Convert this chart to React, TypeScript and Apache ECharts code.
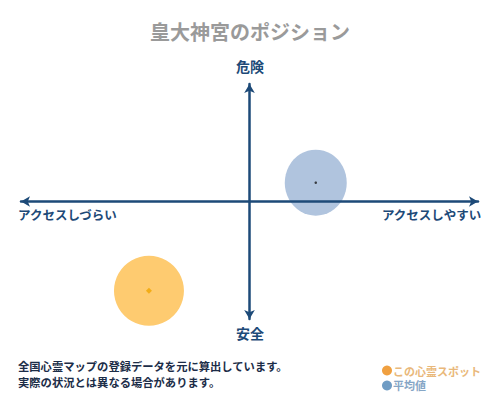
import { useEffect, useRef } from 'react';
import * as echarts from 'echarts';

// positions on the map, -1..1 on both axes
const spotLabel = 'この心霊スポット';
const avgLabel = '平均値';
const spotPoint = [-0.44, -0.76];
const avgPoint = [0.29, 0.16];

const axisLabels = ['アクセスしづらい', 'アクセスしやすい', '危険', '安全'];
const noteLines = ['全国心霊マップの登録データを元に算出しています。', '実際の状況とは異なる場合があります。'];

const NAVY = '#1d4a78';
const FONT = '"Noto Sans CJK JP", sans-serif';

export default function App() {
  const ref = useRef<HTMLDivElement | null>(null);

  useEffect(() => {
    if (!ref.current) return;
    const chart = echarts.init(ref.current, undefined, { renderer: 'svg' });

    chart.setOption({
      animation: false,
      backgroundColor: '#fff',
      title: {
        text: '皇大神宮のポジション',
        left: 'center',
        top: 16,
        textStyle: { color: '#9a9a9a', fontSize: 20, fontWeight: 'bold', fontFamily: FONT },
      },
      grid: { left: 21, right: 22, top: 84, bottom: 81 },
      xAxis: {
        type: 'value',
        min: -1,
        max: 1,
        z: 5,
        axisLine: {
          onZero: true,
          symbol: ['arrow', 'arrow'],
          symbolSize: [8, 9],
          lineStyle: { color: NAVY, width: 2.5 },
        },
        axisTick: { show: false },
        axisLabel: { show: false },
        splitLine: { show: false },
      },
      yAxis: {
        type: 'value',
        min: -1,
        max: 1,
        z: 5,
        axisLine: {
          onZero: true,
          symbol: ['arrow', 'arrow'],
          symbolSize: [8, 9],
          lineStyle: { color: NAVY, width: 2.5 },
        },
        axisTick: { show: false },
        axisLabel: { show: false },
        splitLine: { show: false },
      },
      legend: {
        orient: 'vertical',
        left: 377,
        top: 360,
        itemGap: 4,
        itemWidth: 10,
        itemHeight: 10,
        icon: 'circle',
        textStyle: { fontSize: 11, fontWeight: 'bold', fontFamily: FONT, padding: [0, 0, 0, -4] },
        data: [
          { name: spotLabel, itemStyle: { color: '#f0a040' }, textStyle: { color: '#e9b87a' } },
          { name: avgLabel, itemStyle: { color: '#6f9cc4' }, textStyle: { color: '#86a6c6' } },
        ],
        selectedMode: false,
      },
      series: [
        {
          name: avgLabel,
          type: 'scatter',
          symbol: 'circle',
          symbolSize: [62, 66],
          itemStyle: { color: '#b0c4de', opacity: 1 },
          data: [avgPoint],
          z: 2,
        },
        {
          name: 'avg-center',
          type: 'scatter',
          symbol: 'circle',
          symbolSize: 2.5,
          itemStyle: { color: '#1a1a1a' },
          data: [avgPoint],
          z: 6,
        },
        {
          name: spotLabel,
          type: 'scatter',
          symbol: 'circle',
          symbolSize: 70,
          itemStyle: { color: '#fecb70', opacity: 1 },
          data: [spotPoint],
          z: 2,
        },
        {
          name: 'spot-center',
          type: 'scatter',
          symbol: 'diamond',
          symbolSize: 6,
          itemStyle: { color: '#f0a500' },
          data: [spotPoint],
          z: 6,
        },
      ],
      graphic: [
        {
          type: 'text',
          left: 18,
          top: 208,
          style: { text: axisLabels[0], fill: NAVY, font: `bold 12.5px ${FONT}` },
        },
        {
          type: 'text',
          right: 18,
          top: 208,
          style: { text: axisLabels[1], fill: NAVY, font: `bold 12.5px ${FONT}` },
        },
        {
          type: 'text',
          left: 'center',
          top: 59,
          style: { text: axisLabels[2], fill: NAVY, font: `bold 14px ${FONT}` },
        },
        {
          type: 'text',
          left: 'center',
          top: 326,
          style: { text: axisLabels[3], fill: NAVY, font: `bold 14px ${FONT}` },
        },
        {
          type: 'text',
          left: 18,
          top: 360,
          style: { text: noteLines[0], fill: '#1c2d48', font: `bold 11.3px ${FONT}` },
        },
        {
          type: 'text',
          left: 18,
          top: 376,
          style: { text: noteLines[1], fill: '#1c2d48', font: `bold 11.3px ${FONT}` },
        },
      ],
    });

    return () => chart.dispose();
  }, []);

  return (
    <div
      ref={ref}
      style={{ position: 'absolute', left: 0, top: 0, width: 500, height: 400 }}
    />
  );
}
